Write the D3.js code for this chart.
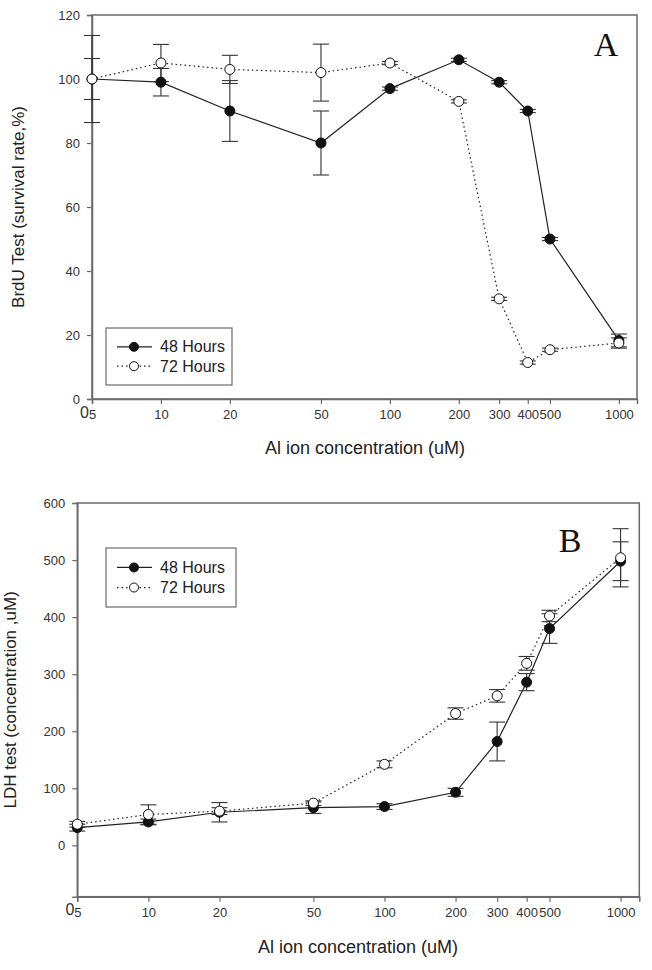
<!DOCTYPE html>
<html><head><meta charset="utf-8">
<script src="https://cdn.jsdelivr.net/npm/d3@7"></script>
<style>body{margin:0;background:#fff}svg{display:block}</style>
</head><body>
<svg id="c" width="652" height="970"></svg>
<script>
const conc = [5,10,20,50,100,200,300,400,500,1000];
const xTicks = [5,10,20,50,100,200,300,400,500,1000];
const brdu48 = [100,99,90,80,97,106,99,90,50,18.3];
const brdu48Err = [13.6,4.3,9.5,10,0.5,0.5,0.5,0.5,0.5,2];
const brdu72 = [100,105,103,102,105,93,31.3,11.4,15.4,17.5];
const brdu72Err = [6.4,5.8,4.4,8.9,0.5,0.5,0.5,0.5,0.5,1.6];
const ldh48 = [31,41,58,66,68,93,182,286,380,498];
const ldh48Err = [6,5,17,10,5,7,34,15,26,34];
const ldh72 = [37,54,60,74,142,231,262,319,402,504];
const ldh72Err = [5,17,6,4,6,10,11,12,10,51];
const seriesNames = ["48 Hours","72 Hours"];
const topTicks = [0,20,40,60,80,100,120];
const botTicks = [0,100,200,300,400,500,600];

const svg = d3.select("#c");
const font = "'Liberation Sans', Arial, sans-serif";
const axisCol = "#6a6a6a";
const textCol = "#333";

function panel(cfg){
  const g = svg.append("g");
  const x = d3.scaleLog().domain([5,1200]).range([cfg.left, cfg.right]);
  const y = d3.scaleLinear().domain(cfg.yDomain).range([cfg.bottom, cfg.top]);
  g.append("rect").attr("x",cfg.left).attr("y",cfg.top)
    .attr("width",cfg.right-cfg.left).attr("height",cfg.bottom-cfg.top)
    .attr("fill","none").attr("stroke",axisCol).attr("stroke-width",1.5);
  const xa = g.append("g").attr("transform",`translate(0,${cfg.bottom})`)
    .call(d3.axisBottom(x).tickValues(xTicks).tickFormat(d3.format("d")).tickSize(5).tickPadding(6));
  const ya = g.append("g").attr("transform",`translate(${cfg.left},0)`)
    .call(d3.axisLeft(y).tickValues(cfg.yTicks).tickSize(5).tickPadding(7));
  [xa,ya].forEach(a=>{
    a.select(".domain").attr("stroke",axisCol).attr("stroke-width",1.5);
    a.selectAll(".tick line").attr("stroke",axisCol).attr("stroke-width",1.2);
    a.selectAll("text").attr("font-family",font).attr("font-size",13).attr("fill",textCol);
  });
  g.append("text").attr("x",cfg.left-3).attr("y",cfg.bottom+18.5).attr("text-anchor","end")
    .attr("font-family",font).attr("font-size",16).attr("fill",textCol).text("0");
  g.append("text").attr("x",cfg.xTitleX).attr("y",cfg.xTitleY).attr("text-anchor","middle")
    .attr("font-family",font).attr("font-size",18).attr("fill","#222").text("Al ion concentration (uM)");
  g.append("text").attr("transform",`translate(${cfg.yTitleX},${(cfg.top+cfg.bottom)/2}) rotate(-90)`)
    .attr("text-anchor","middle").attr("font-family",font).attr("font-size",17).attr("fill","#222").text(cfg.yTitle);
  g.append("text").attr("x",cfg.letterX).attr("y",cfg.letterY).attr("text-anchor","middle")
    .attr("font-family","'Liberation Serif','Times New Roman',serif").attr("font-size",34).attr("fill","#111").text(cfg.letter);

  const s = [
    {v:cfg.d48, e:cfg.e48, fill:"#111", dash:null},
    {v:cfg.d72, e:cfg.e72, fill:"#fff", dash:"1.5,3"}
  ];
  const line = d3.line().x((d,i)=>x(conc[i])).y(d=>y(d));
  [s[1],s[0]].forEach(ser=>{
    g.append("path").datum(ser.v).attr("d",line).attr("fill","none")
      .attr("stroke","#222").attr("stroke-width",1.2).attr("stroke-dasharray",ser.dash);
  });
  s.forEach(ser=>{
    ser.v.forEach((v,i)=>{
      const cx = x(conc[i]), e = ser.e[i];
      g.append("line").attr("x1",cx).attr("x2",cx).attr("y1",y(v-e)).attr("y2",y(v+e)).attr("stroke","#333").attr("stroke-width",1.1);
      [v-e,v+e].forEach(c=>g.append("line").attr("x1",cx-8).attr("x2",cx+8).attr("y1",y(c)).attr("y2",y(c)).attr("stroke","#333").attr("stroke-width",1.1));
    });
  });
  s.forEach(ser=>{
    g.selectAll(null).data(ser.v).enter().append("circle")
      .attr("cx",(d,i)=>x(conc[i])).attr("cy",d=>y(d)).attr("r",5)
      .attr("fill",ser.fill).attr("stroke","#111").attr("stroke-width",1);
  });
  const L = cfg.legend;
  g.append("rect").attr("x",L.x).attr("y",L.y).attr("width",L.w).attr("height",L.h)
    .attr("fill","#fff").attr("stroke",axisCol).attr("stroke-width",1.2);
  s.forEach((ser,k)=>{
    const ly = L.y + L.h*(k===0?0.33:0.67);
    g.append("line").attr("x1",L.x+11).attr("x2",L.x+46).attr("y1",ly).attr("y2",ly)
      .attr("stroke","#222").attr("stroke-width",1.2).attr("stroke-dasharray",ser.dash);
    g.append("circle").attr("cx",L.x+28).attr("cy",ly).attr("r",4.5).attr("fill",ser.fill).attr("stroke","#111");
    g.append("text").attr("x",L.x+54).attr("y",ly+5.5).attr("font-family",font).attr("font-size",16)
      .attr("fill","#222").text(seriesNames[k]);
  });
}

panel({left:92,right:637,top:15,bottom:399,yDomain:[0,120],yTicks:topTicks,
  d48:brdu48,e48:brdu48Err,d72:brdu72,e72:brdu72Err,
  xTitleX:365,xTitleY:454,yTitleX:24,yTitle:"BrdU Test (survival rate,%)",
  letter:"A",letterX:606,letterY:56,
  legend:{x:106,y:328,w:126,h:57}});
panel({left:77.3,right:639.3,top:503,bottom:896.7,yDomain:[-90,600],yTicks:botTicks,
  d48:ldh48,e48:ldh48Err,d72:ldh72,e72:ldh72Err,
  xTitleX:358,xTitleY:953,yTitleX:16,yTitle:"LDH test (concentration ,uM)",
  letter:"B",letterX:570,letterY:552,
  legend:{x:106,y:548,w:130,h:59}});
</script>
</body></html>
